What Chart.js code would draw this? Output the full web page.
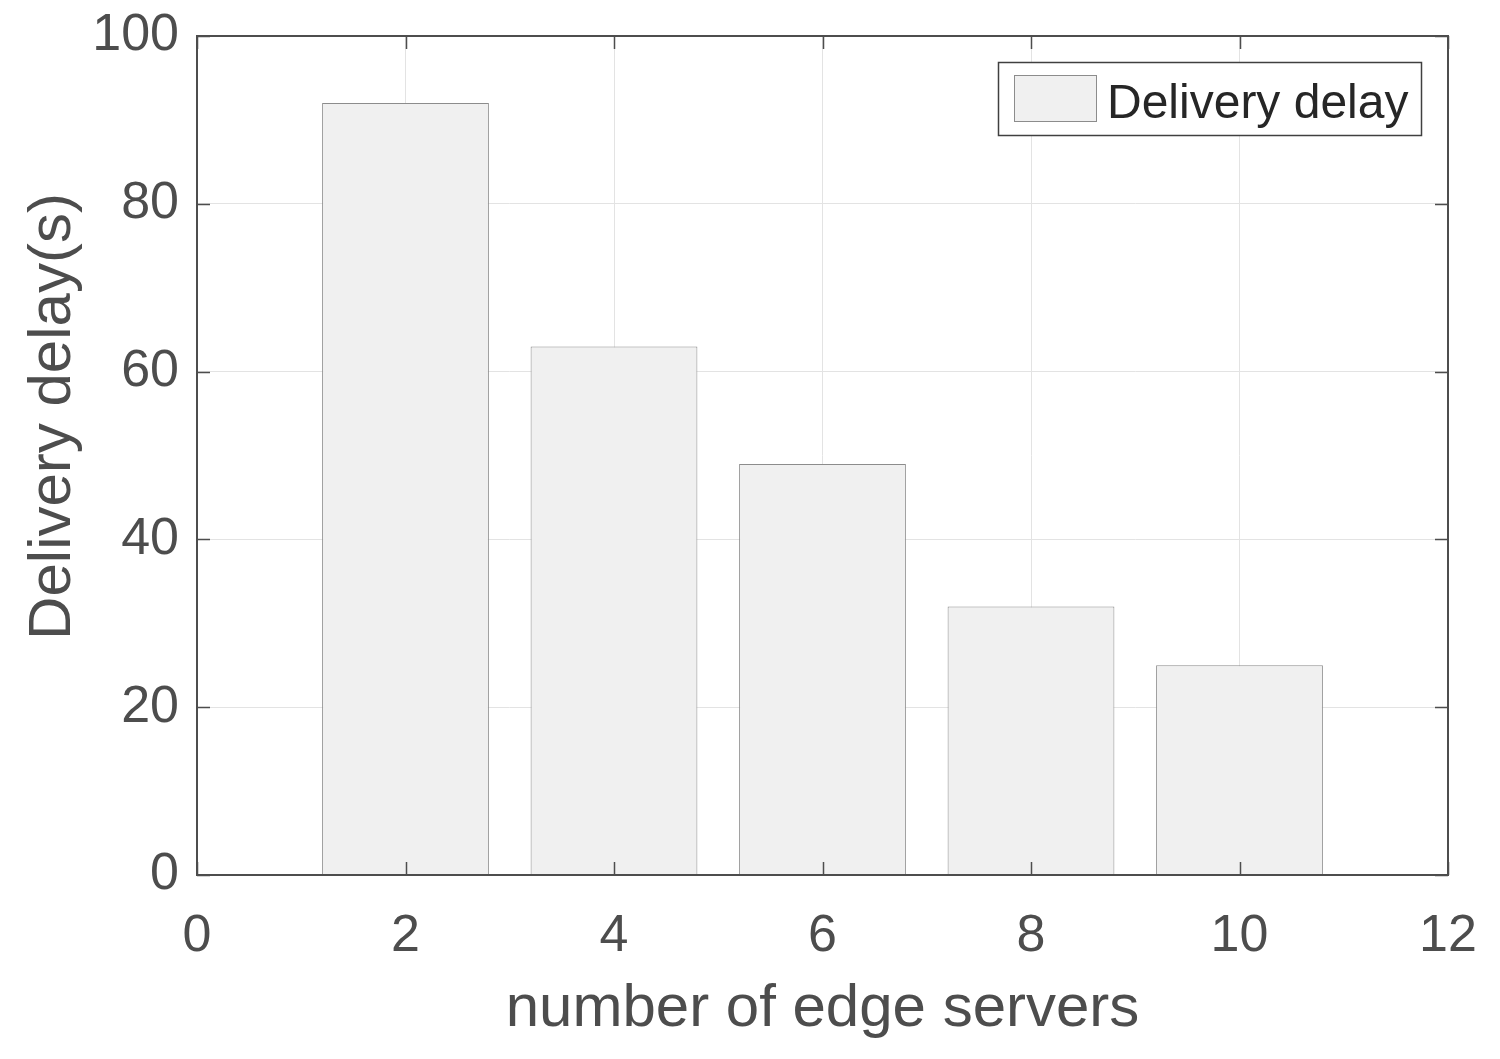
<!DOCTYPE html>
<html>
<head>
<meta charset="utf-8">
<script src="https://cdn.jsdelivr.net/npm/chart.js@4/dist/chart.umd.min.js"></script>
<style>
  html, body { margin: 0; padding: 0; background: #fff; }
  #wrap { width: 1500px; height: 1059px; position: relative; }
</style>
</head>
<body>
<div id="wrap"><canvas id="chart"></canvas></div>
<script>
// data
const servers = [2, 4, 6, 8, 10];
const delays = [92, 63, 49, 32, 25];
const seriesName = 'Delivery delay';
const xTicks = [0, 2, 4, 6, 8, 10, 12];
const yTicks = [0, 20, 40, 60, 80, 100];
const yTitle = 'Delivery delay(s)';

const axisColor = '#4d4d4d';
const font = "'Liberation Sans', Arial, Helvetica, sans-serif";

// MATLAB-like box with inward tick marks, drawn over the bars
const boxPlugin = {
  id: 'box',
  afterDatasetsDraw(chart) {
    const { ctx, chartArea: a, scales } = chart;
    ctx.save();
    ctx.strokeStyle = axisColor;
    ctx.lineWidth = 2;
    ctx.strokeRect(a.left, a.top, a.right - a.left, a.bottom - a.top);
    const len = 13;
    ctx.beginPath();
    xTicks.forEach(v => {
      const x = Math.round(scales.x.getPixelForValue(v)) + 0.5;
      ctx.moveTo(x, a.bottom); ctx.lineTo(x, a.bottom - len);
      ctx.moveTo(x, a.top); ctx.lineTo(x, a.top + len);
    });
    yTicks.forEach(v => {
      const y = Math.round(scales.y.getPixelForValue(v)) + 0.5;
      ctx.moveTo(a.left, y); ctx.lineTo(a.left + len, y);
      ctx.moveTo(a.right, y); ctx.lineTo(a.right - len, y);
    });
    ctx.lineWidth = 1.5;
    ctx.stroke();
    ctx.restore();
  },
  afterDraw(chart) {
    const { ctx, chartArea: a } = chart;
    const ds = chart.data.datasets[0];

    // y axis label (sits a bit above the axis middle, as in the original)
    ctx.save();
    ctx.translate(70, (a.top + a.bottom) / 2 - 39);
    ctx.rotate(-Math.PI / 2);
    ctx.fillStyle = axisColor;
    ctx.font = '60px ' + font;
    ctx.textAlign = 'center';
    ctx.textBaseline = 'alphabetic';
    ctx.fillText(yTitle, 0, 0);
    ctx.restore();

    // legend box in the upper right corner of the axes
    const bx = a.right - 450, by = a.top + 26, bw = 423, bh = 73;
    ctx.save();
    ctx.fillStyle = '#fff';
    ctx.fillRect(bx, by, bw, bh);
    ctx.strokeStyle = '#404040';
    ctx.lineWidth = 1.5;
    ctx.strokeRect(bx + 0.5, by + 0.5, bw, bh);
    ctx.fillStyle = ds.backgroundColor;
    ctx.fillRect(bx + 16, by + 13, 83, 47);
    ctx.strokeStyle = ds.borderColor;
    ctx.lineWidth = 1;
    ctx.strokeRect(bx + 16.5, by + 13.5, 82, 46);
    ctx.fillStyle = '#262626';
    ctx.font = '48px ' + font;
    ctx.textBaseline = 'alphabetic';
    ctx.fillText(ds.label, bx + 109, by + 56);
    ctx.restore();
  }
};

new Chart(document.getElementById('chart'), {
  type: 'bar',
  data: {
    datasets: [{
      label: seriesName,
      data: servers.map((x, i) => ({ x, y: delays[i] })),
      backgroundColor: '#f0f0f0',
      borderColor: '#8c8c8c',
      borderWidth: 1,
      categoryPercentage: 1,
      barPercentage: 0.8
    }]
  },
  options: {
    responsive: true,
    maintainAspectRatio: false,
    animation: false,
    layout: { padding: { left: 20, top: 36, right: 52, bottom: 14 } },
    plugins: { legend: { display: false }, tooltip: { enabled: false } },
    scales: {
      x: {
        type: 'linear',
        offset: false,
        min: 0, max: 12,
        grid: { offset: false, color: '#e3e3e3', lineWidth: 1, drawTicks: false },
        border: { display: false },
        afterBuildTicks: s => { s.ticks = xTicks.map(v => ({ value: v })); },
        afterFit: s => { s.height = 1059 - 875 - 14; s.paddingLeft = 0; s.paddingRight = 0; },
        ticks: { color: axisColor, font: { family: font, size: 52 }, padding: 30, maxRotation: 0 },
        title: { display: true, text: 'number of edge servers', color: axisColor,
                 font: { family: font, size: 60 }, padding: { top: 2, bottom: 0 } }
      },
      y: {
        min: 0, max: 100,
        grid: { color: '#e3e3e3', lineWidth: 1, drawTicks: false },
        border: { display: false },
        afterBuildTicks: s => { s.ticks = yTicks.map(v => ({ value: v })); },
        afterFit: s => { s.width = 197 - 20; s.paddingTop = 0; s.paddingBottom = 0; },
        ticks: { color: axisColor, font: { family: font, size: 52 }, padding: 18 }
      }
    }
  },
  plugins: [boxPlugin]
});
</script>
</body>
</html>
